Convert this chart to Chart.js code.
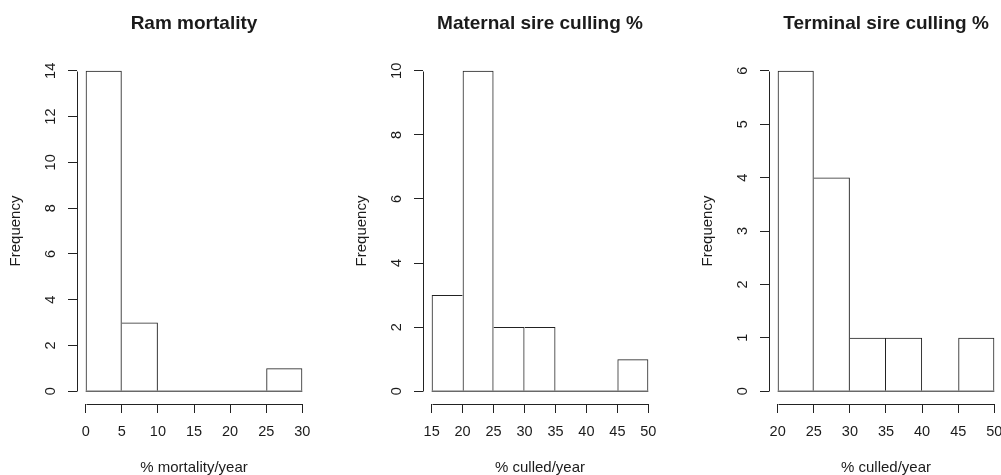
<!DOCTYPE html>
<html>
<head>
<meta charset="utf-8">
<script src="https://cdn.jsdelivr.net/npm/chart.js@4/dist/chart.umd.min.js"></script>
<style>
  html, body { margin: 0; padding: 0; background: #ffffff; overflow: hidden; }
  body { width: 1001px; height: 475px; position: relative; }
  .panel { position: absolute; top: 0; width: 346px; height: 475px; }
  .panel canvas { display: block; }
</style>
</head>
<body>
<div class="panel" style="left:0px"><canvas id="c1" width="346" height="475"></canvas></div>
<div class="panel" style="left:346px"><canvas id="c2" width="346" height="475"></canvas></div>
<div class="panel" style="left:692px"><canvas id="c3" width="346" height="475"></canvas></div>
<script>
// ---- data ----
const titles = ["Ram mortality", "Maternal sire culling %", "Terminal sire culling %"];
const xLabels = ["% mortality/year", "% culled/year", "% culled/year"];
const yLabel = "Frequency";

const ramBreaks = [0, 5, 10, 15, 20, 25, 30];
const ramCounts = [14, 3, 0, 0, 0, 1];
const ramYTicks = [0, 2, 4, 6, 8, 10, 12, 14];

const maternalBreaks = [15, 20, 25, 30, 35, 40, 45, 50];
const maternalCounts = [3, 10, 2, 2, 0, 0, 1];
const maternalYTicks = [0, 2, 4, 6, 8, 10];

const terminalBreaks = [20, 25, 30, 35, 40, 45, 50];
const terminalCounts = [6, 4, 1, 1, 0, 1];
const terminalYTicks = [0, 1, 2, 3, 4, 5, 6];

// ---- styling ----
const FONT = "'Liberation Sans', Arial, Helvetica, sans-serif";
const INK = '#222222';
const TEXT = '#1b1b1b';

const rAxisPlugin = {
  id: 'rAxis',
  afterDraw(chart) {
    const ctx = chart.ctx;
    const xs = chart.scales.x, ys = chart.scales.y;
    const ca = chart.chartArea;
    ctx.save();
    ctx.strokeStyle = INK;
    ctx.lineWidth = 1;
    ctx.beginPath();
    const xt = xs.ticks;
    const y0 = Math.round(ca.bottom) + 0.5;
    ctx.moveTo(Math.round(xs.getPixelForValue(xt[0].value)) + 0.5, y0);
    ctx.lineTo(Math.round(xs.getPixelForValue(xt[xt.length - 1].value)) + 0.5, y0);
    const yt = ys.ticks;
    const x0 = Math.round(ca.left) + 0.5;
    ctx.moveTo(x0, Math.round(ys.getPixelForValue(yt[0].value)) + 0.5);
    ctx.lineTo(x0, Math.round(ys.getPixelForValue(yt[yt.length - 1].value)) + 0.5);
    ctx.stroke();
    ctx.restore();
  }
};

function makeHist(canvasId, title, xTitle, breaks, counts, yTicks, yPad) {
  const bars = counts.map((c, i) => ({ x: (breaks[i] + breaks[i + 1]) / 2, y: c }));
  const nb = breaks.length - 1;
  const base = [{ x: breaks[0], y: 0 }, { x: breaks[nb], y: 0 }];
  const xr = breaks[nb] - breaks[0];
  const yMax = yTicks[yTicks.length - 1];

  const borderW = (ctx) => {
    const i = ctx.dataIndex;
    const h = counts[i];
    const prev = i > 0 ? counts[i - 1] : -1;
    const next = i < counts.length - 1 ? counts[i + 1] : -1;
    return {
      top: 1,
      bottom: 0,
      left: (prev < h) ? 1 : 0,
      right: (next <= h) ? 1 : 0
    };
  };

  return new Chart(document.getElementById(canvasId), {
    type: 'bar',
    data: {
      datasets: [
        {
          type: 'bar',
          data: bars,
          backgroundColor: 'rgba(255,255,255,0)',
          borderColor: INK,
          borderWidth: borderW,
          borderSkipped: false,
          barPercentage: 1,
          categoryPercentage: 1,
          inflateAmount: 0,
          order: 2
        },
        {
          type: 'line',
          data: base,
          borderColor: INK,
          borderWidth: 1,
          pointRadius: 0,
          fill: false,
          order: 1
        }
      ]
    },
    options: {
      responsive: false,
      animation: false,
      devicePixelRatio: 1,
      layout: { padding: { left: 0, right: 35, top: 0, bottom: 0 } },
      plugins: {
        legend: { display: false },
        tooltip: { enabled: false },
        title: {
          display: true,
          text: title,
          fullSize: false,
          color: TEXT,
          font: { family: FONT, size: 19, weight: 'bold', lineHeight: 1.2 },
          padding: { top: 12.5, bottom: 22.7 }
        }
      },
      scales: {
        x: {
          type: 'linear',
          position: 'bottom',
          offset: false,
          min: breaks[0] - 0.04 * xr,
          max: breaks[nb] + 0.04 * xr,
          afterBuildTicks: (s) => { s.ticks = breaks.map(v => ({ value: v })); },
          afterFit: (s) => { s.height = 71; },
          border: { display: false },
          grid: { offset: false, drawOnChartArea: false, drawTicks: true, tickLength: 9, color: INK, lineWidth: 1 },
          ticks: {
            color: TEXT,
            font: { family: FONT, size: 14.5, lineHeight: 1.2 },
            padding: 10.3,
            maxRotation: 0,
            minRotation: 0,
            autoSkip: false,
            callback: (v) => String(v)
          },
          title: {
            display: true,
            text: xTitle,
            color: TEXT,
            font: { family: FONT, size: 15, lineHeight: 1 },
            padding: { top: 0, bottom: 0 }
          }
        },
        y: {
          type: 'linear',
          position: 'left',
          min: -0.04 * yMax,
          max: yMax * 1.04,
          afterBuildTicks: (s) => { s.ticks = yTicks.map(v => ({ value: v })); },
          afterFit: (s) => { s.width = 77; },
          border: { display: false },
          grid: { drawOnChartArea: false, drawTicks: true, tickLength: 9, color: INK, lineWidth: 1 },
          ticks: {
            color: TEXT,
            font: { family: FONT, size: 14.5, lineHeight: 1.2 },
            padding: yPad,
            minRotation: 90,
            maxRotation: 90,
            crossAlign: 'center',
            autoSkip: false,
            callback: (v) => String(v)
          },
          title: {
            display: true,
            text: yLabel,
            color: TEXT,
            font: { family: FONT, size: 15, lineHeight: 1 },
            padding: { top: 8.1, bottom: 0 }
          }
        }
      }
    },
    plugins: [rAxisPlugin]
  });
}

makeHist('c1', titles[0], xLabels[0], ramBreaks, ramCounts, ramYTicks, 8.9);
makeHist('c2', titles[1], xLabels[1], maternalBreaks, maternalCounts, maternalYTicks, 8.9);
makeHist('c3', titles[2], xLabels[2], terminalBreaks, terminalCounts, terminalYTicks, 13);
</script>
</body>
</html>
